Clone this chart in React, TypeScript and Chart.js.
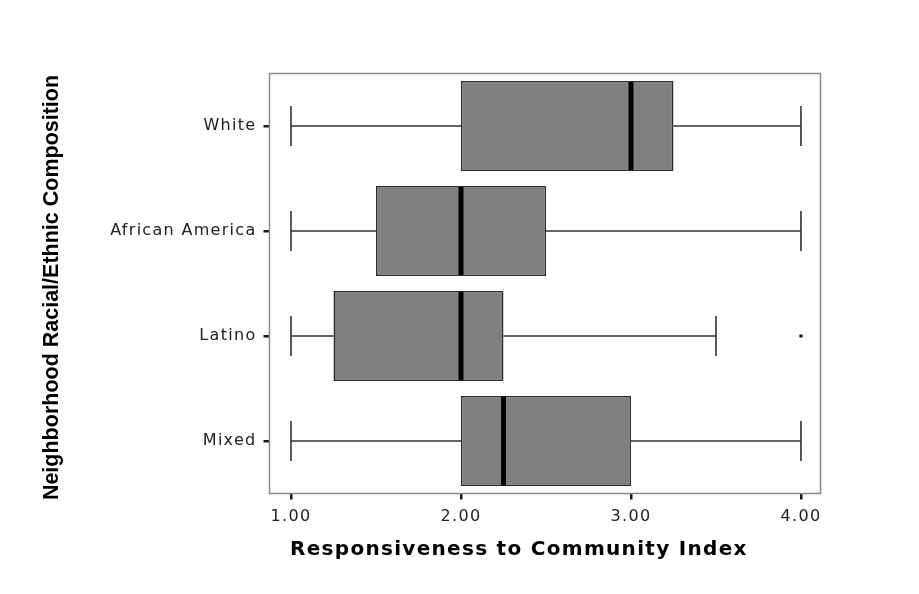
import React, { useEffect, useRef } from 'react';
import { Chart, registerables } from 'chart.js';

Chart.register(...registerables);

const categories = ['White', 'African America', 'Latino', 'Mixed'];
const whiskerLow = [1, 1, 1, 1];
const q1 = [2, 1.5, 1.25, 2];
const median = [3, 2, 2, 2.25];
const q3 = [3.25, 2.5, 2.25, 3];
const whiskerHigh = [4, 4, 3.5, 4];
const outliers: number[][] = [[], [], [4], []];
const xTicks = [1, 2, 3, 4];
const xMin = 0.8735;
const xMax = 4.115;
const xTitle = 'Responsiveness to Community Index';
const yTitle = 'Neighborhood Racial/Ethnic Composition';

const spacingPlugin = {
  id: 'textSpacing',
  beforeDraw(chart: any) {
    chart.ctx.letterSpacing = '1.3px';
  },
  afterDraw(chart: any) {
    chart.ctx.letterSpacing = '0px';
  },
};

// axis titles: x title left-aligned with the first tick; y title rotated beside the axis
const titlePlugin = {
  id: 'axisTitles',
  afterDraw(chart: any) {
    const ctx = chart.ctx;
    const xs = chart.scales.x;
    const ys = chart.scales.y;
    const a = chart.chartArea;
    ctx.save();
    ctx.letterSpacing = '1.3px';
    ctx.font = "bold 20px 'DejaVu Sans', Verdana, sans-serif";
    ctx.fillStyle = '#000';
    ctx.textAlign = 'left';
    ctx.textBaseline = 'middle';
    ctx.fillText(xTitle, xs.getPixelForValue(xTicks[0]) - 1, xs.bottom - 36);
    ctx.restore();

    ctx.save();
    ctx.letterSpacing = '0px';
    ctx.font = "bold 21.5px 'Liberation Sans', Arial, sans-serif";
    ctx.fillStyle = '#000';
    ctx.textAlign = 'center';
    ctx.textBaseline = 'middle';
    ctx.translate(ys.left + 16, (a.top + a.bottom) / 2 + 4);
    ctx.rotate(-Math.PI / 2);
    ctx.fillText(yTitle, 0, 0);
    ctx.restore();
  },
};

const boxPlugin = {
  id: 'boxExtras',
  afterDatasetsDraw(chart: any) {
    const ctx = chart.ctx;
    const xs = chart.scales.x;
    const meta = chart.getDatasetMeta(0);
    ctx.save();
    meta.data.forEach((bar: any, i: number) => {
      const yc = bar.y;
      const h = bar.height;
      const capHalf = h * 0.222;
      const pLow = xs.getPixelForValue(whiskerLow[i]);
      const pQ1 = xs.getPixelForValue(q1[i]);
      const pQ3 = xs.getPixelForValue(q3[i]);
      const pHigh = xs.getPixelForValue(whiskerHigh[i]);
      ctx.strokeStyle = '#333';
      ctx.lineWidth = 1.6;
      ctx.beginPath();
      ctx.moveTo(pLow, yc);
      ctx.lineTo(pQ1, yc);
      ctx.moveTo(pQ3, yc);
      ctx.lineTo(pHigh, yc);
      ctx.moveTo(pLow, yc - capHalf);
      ctx.lineTo(pLow, yc + capHalf);
      ctx.moveTo(pHigh, yc - capHalf);
      ctx.lineTo(pHigh, yc + capHalf);
      ctx.stroke();
      const pMed = xs.getPixelForValue(median[i]);
      ctx.strokeStyle = '#000';
      ctx.lineWidth = 5;
      ctx.beginPath();
      ctx.moveTo(pMed, yc - h / 2 + 1);
      ctx.lineTo(pMed, yc + h / 2 - 1);
      ctx.stroke();
      ctx.fillStyle = '#000';
      outliers[i].forEach((v) => {
        const px = xs.getPixelForValue(v);
        ctx.fillRect(px - 1.5, yc - 1.5, 3, 3);
      });
    });
    const a = chart.chartArea;
    ctx.strokeStyle = '#8a8a8a';
    ctx.lineWidth = 1.5;
    ctx.strokeRect(a.left, a.top, a.right - a.left, a.bottom - a.top);
    ctx.restore();
  },
};

export default function App() {
  const ref = useRef<HTMLCanvasElement | null>(null);
  useEffect(() => {
    if (!ref.current) return;
    const chart = new Chart(ref.current, {
      type: 'bar',
      data: {
        labels: categories,
        datasets: [
          {
            data: q1.map((v, i) => [v, q3[i]]) as any,
            backgroundColor: '#808080',
            borderColor: '#2a2a2a',
            borderWidth: 1.5,
            borderSkipped: false,
            categoryPercentage: 1,
            barPercentage: 0.857,
          },
        ],
      },
      options: {
        indexAxis: 'y',
        animation: false,
        responsive: true,
        maintainAspectRatio: false,
        layout: { padding: { left: 28, top: 65.5, right: 90.5, bottom: 0 } },
        plugins: { legend: { display: false }, tooltip: { enabled: false } },
        scales: {
          x: {
            type: 'linear',
            min: xMin,
            max: xMax,
            afterBuildTicks: (s: any) => {
              s.ticks = xTicks.map((v) => ({ value: v }));
            },
            afterFit: (s: any) => {
              s.height = 92.5;
            },
            grid: { drawOnChartArea: false, drawTicks: true, tickLength: 6, color: '#1a1a1a', lineWidth: 2.5 },
            border: { display: false },
            ticks: {
              padding: 8,
              color: '#222',
              font: { family: "'DejaVu Sans', Verdana, sans-serif", size: 16 },
              callback: (v: any) => Number(v).toFixed(2),
            },
            title: { display: false, text: xTitle },
          },
          y: {
            afterFit: (s: any) => {
              s.width = 233.5;
            },
            grid: { offset: false, drawOnChartArea: false, drawTicks: true, tickLength: 6, color: '#1a1a1a', lineWidth: 2.5 },
            border: { display: false },
            ticks: {
              padding: 7,
              color: '#222',
              font: { family: "'DejaVu Sans', Verdana, sans-serif", size: 16 },
            },
            title: { display: false, text: yTitle },
          },
        },
      },
      plugins: [spacingPlugin, boxPlugin, titlePlugin],
    });
    return () => chart.destroy();
  }, []);
  return (
    <div style={{ width: 903, height: 578, position: 'relative' }}>
      <canvas ref={ref} />
    </div>
  );
}
